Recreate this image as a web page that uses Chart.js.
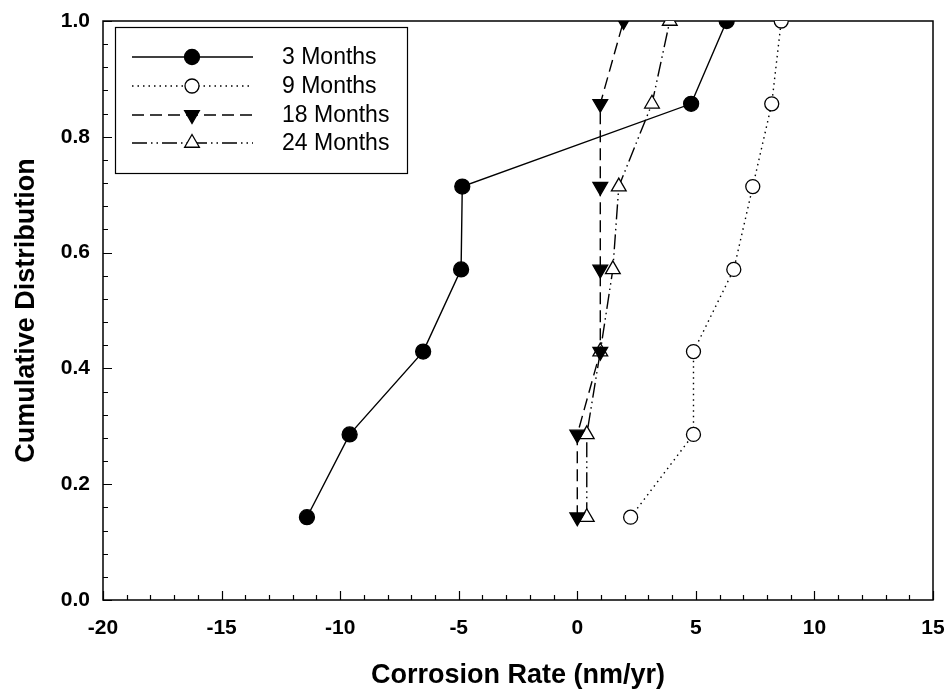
<!DOCTYPE html>
<html>
<head>
<meta charset="utf-8">
<script src="https://cdn.jsdelivr.net/npm/chart.js@4/dist/chart.umd.min.js"></script>
<style>
  html, body { margin: 0; padding: 0; background: #fff; }
  #wrap { width: 948px; height: 690px; }
</style>
</head>
<body>
<div id="wrap"><canvas id="c" width="948" height="690"></canvas></div>
<script>
// ---- data ----
const seriesLabels = ['3 Months', '9 Months', '18 Months', '24 Months'];
const cumulative = [0.143, 0.286, 0.429, 0.571, 0.714, 0.857, 1.0];
const rate3 = [-11.4, -9.6, -6.5, -4.9, -4.85, 4.8, 6.3];
const rate9 = [2.25, 4.9, 4.9, 6.6, 7.4, 8.2, 8.6];
const rate18 = [0.0, 0.0, 0.97, 0.97, 0.97, 0.97, 1.95];
const rate24 = [0.4, 0.4, 0.97, 1.5, 1.75, 3.15, 3.9];
const xTickValues = [-20, -15, -10, -5, 0, 5, 10, 15];
const yTickValues = [0.0, 0.2, 0.4, 0.6, 0.8, 1.0];

const FONT = "'Liberation Sans', Arial, sans-serif";

function pts(xs) { return xs.map((x, i) => ({ x: x, y: cumulative[i] })); }

const styles = [
  { dash: [], pointStyle: 'circle', radius: 7.5, fill: '#000', rotation: 0 },
  { dash: [1.5, 4], pointStyle: 'circle', radius: 7, fill: '#fff', rotation: 0 },
  { dash: [12, 6], pointStyle: 'triangle', radius: 8.5, fill: '#000', rotation: 180 },
  { dash: [15, 4, 1.5, 4, 1.5, 4], pointStyle: 'triangle', radius: 8.5, fill: '#fff', rotation: 0 }
];
const seriesX = [rate3, rate9, rate18, rate24];

const datasets = seriesX.map((xs, i) => ({
  label: seriesLabels[i],
  data: pts(xs),
  showLine: true,
  borderColor: '#000',
  borderWidth: 1.4,
  borderDash: styles[i].dash,
  pointStyle: styles[i].pointStyle,
  pointRadius: styles[i].radius,
  pointHoverRadius: styles[i].radius,
  pointRotation: styles[i].rotation,
  pointBackgroundColor: styles[i].fill,
  pointBorderColor: '#000',
  pointBorderWidth: 1.3,
  tension: 0
}));

// frame + inward ticks
const frameTicks = {
  id: 'frameTicks',
  beforeDatasetsDraw(chart) {
    const { ctx, chartArea: a, scales: { x, y } } = chart;
    ctx.save();
    ctx.strokeStyle = '#000';
    ctx.lineWidth = 1.5;
    ctx.setLineDash([]);
    ctx.strokeRect(a.left, a.top, a.right - a.left, a.bottom - a.top);
    ctx.lineWidth = 1.2;
    ctx.beginPath();
    for (let v = x.min; v <= x.max + 1e-9; v += 1) {
      const px = Math.round(x.getPixelForValue(v)) + 0.5;
      const len = (Math.round(v) % 5 === 0) ? 9 : 5;
      ctx.moveTo(px, a.bottom);
      ctx.lineTo(px, a.bottom - len);
    }
    for (let k = 0; k <= 25; k++) {
      const v = k * 0.04;
      const py = Math.round(y.getPixelForValue(v)) + 0.5;
      const len = (k % 5 === 0) ? 9 : 5;
      ctx.moveTo(a.left, py);
      ctx.lineTo(a.left + len, py);
    }
    ctx.stroke();
    ctx.restore();
  }
};

function drawMarker(ctx, st, cx, cy) {
  ctx.save();
  ctx.setLineDash([]);
  ctx.lineWidth = 1.3;
  ctx.strokeStyle = '#000';
  ctx.fillStyle = st.fill;
  ctx.beginPath();
  if (st.pointStyle === 'circle') {
    ctx.arc(cx, cy, st.radius, 0, Math.PI * 2);
  } else {
    const r = st.radius;
    const rot = st.rotation * Math.PI / 180;
    for (let k = 0; k < 3; k++) {
      const ang = rot - Math.PI / 2 + k * 2 * Math.PI / 3;
      const px = cx + r * Math.cos(ang), py = cy + r * Math.sin(ang);
      if (k === 0) ctx.moveTo(px, py); else ctx.lineTo(px, py);
    }
    ctx.closePath();
  }
  ctx.fill();
  ctx.stroke();
  ctx.restore();
}

const boxLegend = {
  id: 'boxLegend',
  afterDatasetsDraw(chart) {
    const { ctx, chartArea: a } = chart;
    const L = a.left + 12, T = a.top + 6, W = 292, H = 146;
    ctx.save();
    ctx.fillStyle = '#fff';
    ctx.fillRect(L, T, W, H);
    ctx.strokeStyle = '#000';
    ctx.lineWidth = 1.2;
    ctx.setLineDash([]);
    ctx.strokeRect(L + 0.5, T + 0.5, W, H);
    const rows = [T + 30, T + 59, T + 88, T + 116];
    chart.data.datasets.forEach((ds, i) => {
      const yy = rows[i];
      ctx.save();
      ctx.strokeStyle = '#000';
      ctx.lineWidth = 1.4;
      ctx.setLineDash(styles[i].dash);
      ctx.beginPath();
      ctx.moveTo(L + 17, yy);
      ctx.lineTo(L + 138, yy);
      ctx.stroke();
      ctx.restore();
      drawMarker(ctx, styles[i], L + 77, yy);
      ctx.fillStyle = '#000';
      ctx.font = '23px ' + FONT;
      ctx.textAlign = 'left';
      ctx.textBaseline = 'middle';
      ctx.fillText(ds.label, L + 167, yy + 1);
    });
    ctx.restore();
  }
};

new Chart(document.getElementById('c'), {
  type: 'scatter',
  data: { datasets: datasets },
  plugins: [frameTicks, boxLegend],
  options: {
    responsive: false,
    animation: false,
    devicePixelRatio: 1,
    layout: { padding: { top: 21, right: 15, left: 0, bottom: 0 } },
    plugins: { legend: { display: false }, tooltip: { enabled: false } },
    scales: {
      x: {
        type: 'linear',
        min: -20, max: 15,
        afterFit(s) { s.height = 90; s.paddingLeft = 0; s.paddingRight = 0; },
        afterBuildTicks(s) { s.ticks = xTickValues.map(v => ({ value: v })); },
        grid: { display: false, drawTicks: false },
        border: { display: false },
        ticks: {
          color: '#000', padding: 16,
          font: { family: FONT, size: 21, weight: 'bold' },
          callback: v => String(v)
        },
        title: {
          display: true, text: 'Corrosion Rate (nm/yr)', color: '#000',
          font: { family: FONT, size: 27, weight: 'bold', lineHeight: 1 },
          padding: { top: 0, bottom: 1 }
        }
      },
      y: {
        type: 'linear',
        min: 0, max: 1,
        afterFit(s) { s.width = 103; s.paddingTop = 0; s.paddingBottom = 0; },
        afterBuildTicks(s) { s.ticks = yTickValues.map(v => ({ value: v })); },
        grid: { display: false, drawTicks: false },
        border: { display: false },
        ticks: {
          color: '#000', padding: 13,
          font: { family: FONT, size: 21, weight: 'bold' },
          callback: v => Number(v).toFixed(1)
        },
        title: {
          display: true, text: 'Cumulative Distribution', color: '#000',
          font: { family: FONT, size: 27, weight: 'bold', lineHeight: 1 },
          padding: { top: 13, bottom: 0 }
        }
      }
    }
  }
});
</script>
</body>
</html>
